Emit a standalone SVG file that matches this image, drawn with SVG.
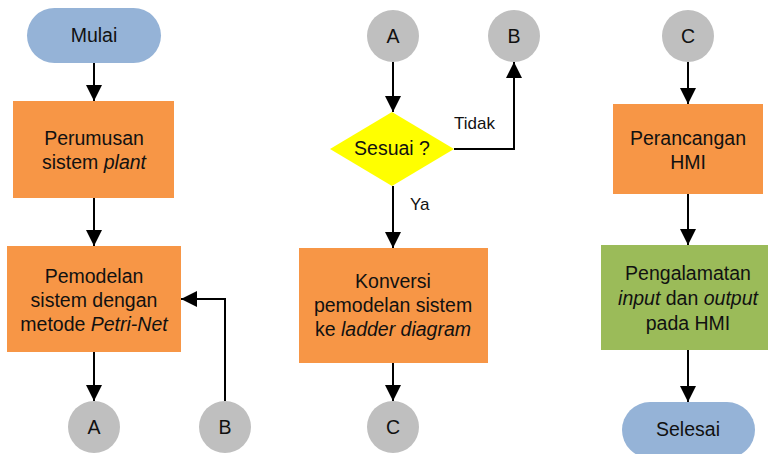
<svg xmlns="http://www.w3.org/2000/svg" width="768" height="454" viewBox="0 0 768 454">
<style>
text{font-family:"Liberation Sans",Arial,sans-serif;font-size:19.5px;fill:#111;text-anchor:middle}
.lbl{font-size:17px;text-anchor:start}
.term{fill:#95B3D7}
.proc{fill:#F79646}
.proc2{fill:#9BBB59}
.conn{fill:#BFBFBF}
.dec{fill:#FFFF00}
.edge{fill:none;stroke:#000;stroke-width:2;marker-end:url(#ah)}
</style>
<defs>
<marker id="ah" viewBox="0 0 16 16" refX="16" refY="8" markerWidth="16" markerHeight="16" markerUnits="userSpaceOnUse" orient="auto">
<path d="M0,0 L16,8 L0,16 z" fill="#000"/>
</marker>
</defs>
<g id="connectors">
<path class="edge" d="M94,63 V101"/>
<path class="edge" d="M94,198 V246"/>
<path class="edge" d="M94,352 V401"/>
<path class="edge" d="M225,401 V299 H181"/>
<path class="edge" d="M393,62 V112"/>
<path class="edge" d="M454,149 H514 V62"/>
<path class="edge" d="M393,186 V248"/>
<path class="edge" d="M393,363 V401"/>
<path class="edge" d="M688,62 V104"/>
<path class="edge" d="M688,194 V245"/>
<path class="edge" d="M688,350 V402"/>
<text class="lbl" x="454" y="129">Tidak</text>
<text class="lbl" x="410" y="210">Ya</text>
</g>
<g id="mulai"><rect class="term" x="27" y="8" width="134" height="55" rx="27.5"/><text x="94" y="42">Mulai</text></g>
<g id="perumusan"><rect class="proc" x="13" y="101" width="161" height="97"/><text x="94" y="145">Perumusan</text><text x="94" y="169">sistem <tspan font-style="italic">plant</tspan></text></g>
<g id="pemodelan"><rect class="proc" x="7" y="246" width="174" height="106"/><text x="94" y="283">Pemodelan</text><text x="94" y="307">sistem dengan</text><text x="94" y="331">metode <tspan font-style="italic">Petri-Net</tspan></text></g>
<g id="a1"><circle class="conn" cx="94" cy="427" r="26"/><text x="94" y="434">A</text></g>
<g id="b1"><circle class="conn" cx="225" cy="427" r="26"/><text x="225" y="434">B</text></g>
<g id="a2"><circle class="conn" cx="393" cy="36" r="26"/><text x="393" y="43">A</text></g>
<g id="b2"><circle class="conn" cx="514" cy="36" r="26"/><text x="514" y="43">B</text></g>
<g id="sesuai"><polygon class="dec" points="330,149 392,112 454,149 392,186"/><text x="392" y="155">Sesuai ?</text></g>
<g id="konversi"><rect class="proc" x="299" y="248" width="189" height="115"/><text x="393" y="288">Konversi</text><text x="393" y="312">pemodelan sistem</text><text x="393" y="336">ke <tspan font-style="italic">ladder diagram</tspan></text></g>
<g id="c1"><circle class="conn" cx="393" cy="427" r="26"/><text x="393" y="434">C</text></g>
<g id="c2"><circle class="conn" cx="688" cy="36" r="26"/><text x="688" y="43">C</text></g>
<g id="perancangan"><rect class="proc" x="613" y="104" width="150" height="90"/><text x="688" y="145">Perancangan</text><text x="688" y="169">HMI</text></g>
<g id="pengalamatan"><rect class="proc2" x="601" y="245" width="174" height="105"/><text x="688" y="280">Pengalamatan</text><text x="688" y="305"><tspan font-style="italic">input</tspan> dan <tspan font-style="italic">output</tspan></text><text x="688" y="330">pada HMI</text></g>
<g id="selesai"><rect class="term" x="622" y="402" width="133" height="56" rx="28"/><text x="688" y="436">Selesai</text></g>
</svg>
